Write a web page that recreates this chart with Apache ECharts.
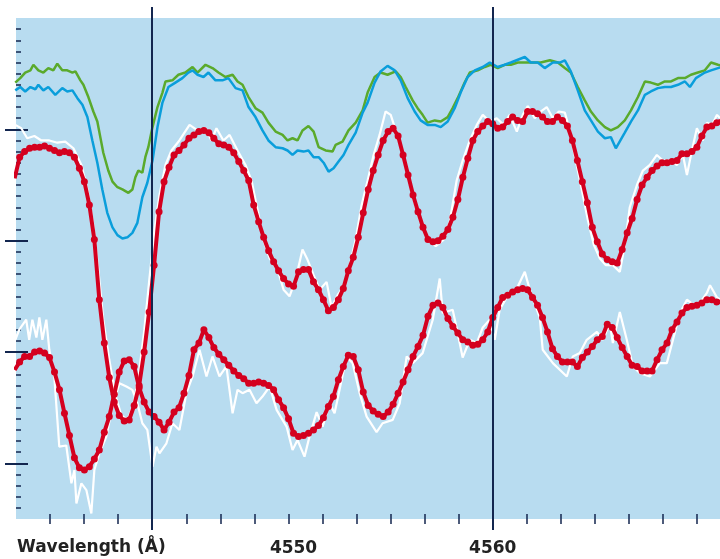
<!DOCTYPE html>
<html><head><meta charset="utf-8">
<script src="https://cdn.jsdelivr.net/npm/echarts@6/dist/echarts.min.js"></script>
<style>html,body{margin:0;padding:0;background:#fff}#c{width:720px;height:559px}</style>
</head><body><div id="c"></div><script>
// Green comparison spectrum (wavelength in Å, relative flux)
const greenWl = [4536.03,4536.28,4536.53,4536.79,4536.94,4537.19,4537.44,4537.69,4537.94,4538.14,4538.39,4538.64,4538.90,4539.05,4539.30,4539.45,4539.70,4539.95,4540.15,4540.30,4540.45,4540.70,4540.91,4541.16,4541.41,4541.71,4541.91,4542.06,4542.21,4542.41,4542.56,4542.71,4542.92,4543.17,4543.42,4543.57,4543.92,4544.22,4544.57,4544.93,4545.18,4545.58,4545.93,4546.23,4546.58,4546.94,4547.19,4547.44,4547.74,4548.09,4548.44,4548.74,4549.10,4549.45,4549.70,4549.95,4550.20,4550.45,4550.75,4551.01,4551.26,4551.61,4551.96,4552.11,4552.46,4552.76,4553.12,4553.47,4553.72,4554.07,4554.37,4554.72,4555.13,4555.38,4555.63,4555.98,4556.23,4556.48,4556.73,4557.09,4557.39,4557.74,4557.99,4558.24,4558.59,4558.85,4559.25,4559.60,4559.90,4560.25,4560.60,4560.91,4561.26,4561.66,4562.11,4562.41,4562.87,4563.27,4563.62,4563.92,4564.27,4564.62,4564.93,4565.28,4565.63,4565.93,4566.28,4566.63,4566.94,4567.29,4567.64,4567.94,4568.29,4568.64,4568.95,4569.30,4569.65,4569.95,4570.30,4570.65,4570.96,4571.31,4571.51];
const greenFlux = [3.92,3.96,4.01,4.03,4.08,4.03,4.01,4.05,4.03,4.09,4.03,4.03,4.01,4.02,3.94,3.90,3.79,3.66,3.57,3.43,3.29,3.13,3.03,2.98,2.96,2.93,2.96,3.07,3.13,3.11,3.25,3.34,3.52,3.70,3.83,3.93,3.94,3.99,4.01,4.06,4.01,4.08,4.05,4.01,3.97,3.99,3.93,3.90,3.79,3.69,3.65,3.56,3.48,3.45,3.40,3.42,3.40,3.49,3.53,3.48,3.34,3.31,3.30,3.36,3.39,3.49,3.56,3.67,3.83,3.97,4.01,3.99,4.02,3.97,3.88,3.76,3.69,3.63,3.56,3.58,3.57,3.61,3.69,3.78,3.92,4.01,4.03,4.06,4.08,4.05,4.08,4.08,4.10,4.10,4.10,4.10,4.12,4.10,4.05,4.01,3.88,3.76,3.66,3.58,3.52,3.49,3.52,3.58,3.67,3.79,3.93,3.92,3.90,3.93,3.93,3.96,3.96,3.99,4.01,4.03,4.10,4.08,4.07];

// Blue comparison spectrum
const blueWl = [4536.03,4536.28,4536.53,4536.79,4537.04,4537.19,4537.44,4537.69,4538.04,4538.39,4538.64,4538.90,4539.15,4539.40,4539.65,4539.90,4540.15,4540.40,4540.65,4540.91,4541.16,4541.41,4541.66,4541.91,4542.16,4542.41,4542.66,4542.92,4543.17,4543.42,4543.72,4544.07,4544.42,4544.72,4544.93,4545.18,4545.48,4545.73,4546.08,4546.43,4546.73,4547.09,4547.44,4547.74,4548.09,4548.44,4548.74,4549.10,4549.45,4549.70,4549.95,4550.20,4550.50,4550.75,4551.01,4551.26,4551.51,4551.76,4552.01,4552.26,4552.51,4552.76,4553.12,4553.47,4553.72,4554.07,4554.37,4554.72,4555.08,4555.38,4555.73,4556.08,4556.38,4556.73,4557.09,4557.39,4557.74,4558.09,4558.39,4558.74,4559.10,4559.50,4559.85,4560.25,4560.60,4560.91,4561.61,4561.91,4562.26,4562.61,4563.02,4563.37,4563.62,4563.92,4564.27,4564.62,4564.93,4565.28,4565.63,4565.93,4566.18,4566.63,4566.94,4567.29,4567.64,4567.94,4568.29,4568.64,4568.95,4569.30,4569.65,4569.90,4570.20,4570.65,4570.96,4571.31,4571.51];
const blueFlux = [3.85,3.88,3.84,3.88,3.86,3.90,3.85,3.88,3.81,3.87,3.84,3.85,3.78,3.72,3.61,3.40,3.20,2.96,2.75,2.62,2.55,2.52,2.53,2.57,2.66,2.89,3.02,3.22,3.52,3.74,3.88,3.92,3.96,4.01,4.03,3.99,3.97,4.01,3.94,3.94,3.96,3.87,3.85,3.70,3.61,3.49,3.40,3.34,3.33,3.31,3.27,3.31,3.30,3.31,3.25,3.25,3.20,3.12,3.15,3.21,3.27,3.36,3.47,3.65,3.74,3.92,4.02,4.07,4.03,3.94,3.78,3.66,3.58,3.54,3.54,3.52,3.57,3.69,3.83,3.97,4.03,4.06,4.10,4.06,4.08,4.10,4.15,4.10,4.10,4.05,4.10,4.10,4.12,4.02,3.85,3.67,3.58,3.48,3.42,3.43,3.33,3.47,3.57,3.67,3.81,3.84,3.87,3.88,3.88,3.90,3.93,3.88,3.96,4.01,4.03,4.05,4.06];

// Wavelength grid (Å) for the two red model spectra
const modelWl = [4536.0,4536.25,4536.5,4536.75,4537.0,4537.25,4537.5,4537.75,4538.0,4538.25,4538.5,4538.75,4539.0,4539.25,4539.5,4539.75,4540.0,4540.25,4540.5,4540.75,4541.0,4541.25,4541.5,4541.75,4542.0,4542.25,4542.5,4542.75,4543.0,4543.25,4543.5,4543.75,4544.0,4544.25,4544.5,4544.75,4545.0,4545.25,4545.5,4545.75,4546.0,4546.25,4546.5,4546.75,4547.0,4547.25,4547.5,4547.75,4548.0,4548.25,4548.5,4548.75,4549.0,4549.25,4549.5,4549.75,4550.0,4550.25,4550.5,4550.75,4551.0,4551.25,4551.5,4551.75,4552.0,4552.25,4552.5,4552.75,4553.0,4553.25,4553.5,4553.75,4554.0,4554.25,4554.5,4554.75,4555.0,4555.25,4555.5,4555.75,4556.0,4556.25,4556.5,4556.75,4557.0,4557.25,4557.5,4557.75,4558.0,4558.25,4558.5,4558.75,4559.0,4559.25,4559.5,4559.75,4560.0,4560.25,4560.5,4560.75,4561.0,4561.25,4561.5,4561.75,4562.0,4562.25,4562.5,4562.75,4563.0,4563.25,4563.5,4563.75,4564.0,4564.25,4564.5,4564.75,4565.0,4565.25,4565.5,4565.75,4566.0,4566.25,4566.5,4566.75,4567.0,4567.25,4567.5,4567.75,4568.0,4568.25,4568.5,4568.75,4569.0,4569.25,4569.5,4569.75,4570.0,4570.25,4570.5,4570.75,4571.0,4571.25,4571.5];

const upperModelFlux = [3.06,3.25,3.30,3.33,3.34,3.34,3.35,3.33,3.31,3.29,3.30,3.29,3.25,3.15,3.03,2.82,2.51,1.97,1.58,1.27,1.05,0.93,0.88,0.89,1.02,1.20,1.50,1.86,2.28,2.76,3.03,3.16,3.27,3.31,3.36,3.42,3.45,3.48,3.49,3.47,3.42,3.37,3.36,3.34,3.29,3.21,3.13,3.04,2.82,2.67,2.53,2.41,2.31,2.23,2.16,2.11,2.09,2.22,2.24,2.24,2.13,2.06,1.97,1.87,1.90,1.97,2.07,2.23,2.35,2.53,2.75,2.96,3.13,3.27,3.40,3.48,3.51,3.44,3.27,3.09,2.91,2.76,2.62,2.51,2.49,2.50,2.54,2.60,2.71,2.87,3.07,3.24,3.40,3.48,3.53,3.57,3.55,3.51,3.52,3.57,3.61,3.58,3.57,3.66,3.66,3.64,3.61,3.57,3.57,3.61,3.58,3.53,3.40,3.22,3.03,2.84,2.62,2.49,2.38,2.33,2.31,2.30,2.42,2.57,2.70,2.87,3.00,3.07,3.13,3.17,3.20,3.20,3.21,3.22,3.28,3.28,3.30,3.34,3.44,3.52,3.53,3.56,3.58];

const lowerModelFlux = [1.34,1.41,1.46,1.46,1.50,1.51,1.49,1.45,1.32,1.16,0.95,0.75,0.55,0.46,0.44,0.47,0.54,0.62,0.78,0.92,1.12,1.32,1.42,1.43,1.37,1.18,1.05,0.96,0.92,0.87,0.80,0.87,0.96,1.00,1.13,1.29,1.52,1.58,1.70,1.63,1.54,1.48,1.43,1.38,1.33,1.29,1.26,1.22,1.22,1.23,1.22,1.20,1.16,1.07,1.00,0.90,0.77,0.74,0.75,0.77,0.80,0.84,0.91,1.01,1.10,1.25,1.37,1.47,1.46,1.34,1.14,1.02,0.97,0.94,0.92,0.96,1.03,1.13,1.23,1.34,1.46,1.55,1.65,1.82,1.92,1.94,1.90,1.80,1.73,1.67,1.61,1.59,1.56,1.57,1.61,1.68,1.81,1.90,1.99,2.01,2.04,2.06,2.07,2.06,1.99,1.92,1.81,1.68,1.53,1.46,1.41,1.41,1.41,1.37,1.45,1.50,1.55,1.61,1.64,1.75,1.72,1.63,1.54,1.46,1.38,1.37,1.33,1.33,1.33,1.43,1.52,1.58,1.70,1.77,1.85,1.90,1.91,1.92,1.94,1.97,1.97,1.95,1.95];

// Observed (noisy) spectra
const upperObsWl = [4536.03,4536.33,4536.63,4536.99,4537.34,4537.74,4538.14,4538.54,4538.95,4539.35,4539.65,4539.95,4540.20,4540.45,4540.75,4541.06,4541.36,4541.66,4541.96,4542.26,4542.51,4542.76,4543.02,4543.27,4543.57,4543.87,4544.27,4544.78,4545.18,4545.58,4545.88,4546.13,4546.48,4546.79,4547.19,4547.59,4547.89,4548.19,4548.49,4548.80,4549.20,4549.50,4549.80,4550.10,4550.45,4550.70,4551.01,4551.31,4551.66,4551.91,4552.21,4552.56,4552.82,4553.12,4553.42,4553.72,4554.02,4554.32,4554.62,4554.88,4555.13,4555.43,4555.73,4556.03,4556.33,4556.73,4557.14,4557.54,4557.84,4558.19,4558.49,4558.85,4559.20,4559.50,4559.85,4560.20,4560.55,4560.85,4561.21,4561.51,4561.76,4562.11,4562.41,4562.71,4563.02,4563.32,4563.62,4563.87,4564.17,4564.47,4564.77,4565.08,4565.38,4565.68,4566.03,4566.38,4566.63,4566.88,4567.24,4567.54,4567.89,4568.24,4568.54,4568.90,4569.25,4569.55,4569.75,4570.00,4570.25,4570.55,4570.75,4571.01,4571.26,4571.41];
const upperObsFlux = [3.54,3.51,3.42,3.44,3.40,3.40,3.38,3.39,3.33,3.18,2.96,2.64,2.24,1.79,1.43,1.11,0.93,0.89,1.02,1.34,1.70,2.15,2.60,2.91,3.18,3.31,3.40,3.54,3.49,3.51,3.40,3.51,3.40,3.45,3.31,3.18,3.04,2.78,2.51,2.34,2.24,2.06,2.00,2.15,2.42,2.33,2.19,2.06,2.13,1.90,2.01,2.10,2.28,2.51,2.82,3.04,3.27,3.45,3.66,3.63,3.49,3.31,3.09,2.87,2.69,2.51,2.45,2.51,2.67,3.04,3.22,3.40,3.54,3.63,3.57,3.60,3.54,3.63,3.48,3.63,3.71,3.60,3.66,3.70,3.60,3.66,3.65,3.49,3.22,2.96,2.69,2.46,2.34,2.28,2.28,2.22,2.46,2.80,3.00,3.13,3.18,3.27,3.22,3.22,3.18,3.27,3.09,3.31,3.51,3.40,3.56,3.54,3.63,3.60];

const lowerObsWl = [4536.03,4536.23,4536.58,4536.73,4536.89,4537.09,4537.24,4537.39,4537.59,4537.74,4537.99,4538.24,4538.59,4538.85,4539.00,4539.10,4539.35,4539.60,4539.85,4540.00,4540.25,4540.60,4540.91,4541.26,4541.61,4541.91,4542.16,4542.41,4542.66,4542.92,4543.12,4543.27,4543.62,4543.92,4544.27,4544.62,4544.93,4545.28,4545.63,4545.93,4546.28,4546.63,4546.94,4547.19,4547.44,4547.79,4548.14,4548.44,4548.80,4549.15,4549.65,4549.95,4550.20,4550.55,4550.80,4551.16,4551.46,4551.81,4552.06,4552.31,4552.66,4552.97,4553.32,4553.67,4554.17,4554.47,4554.98,4555.33,4555.68,4555.98,4556.48,4556.99,4557.34,4557.49,4557.99,4558.24,4558.49,4558.85,4559.20,4559.50,4559.85,4560.10,4560.35,4560.70,4561.21,4561.61,4561.86,4562.36,4562.51,4563.02,4563.72,4564.02,4564.37,4564.72,4565.23,4565.53,4565.88,4566.03,4566.38,4566.73,4567.04,4567.39,4567.89,4568.39,4568.74,4569.05,4569.40,4569.75,4570.25,4570.75,4570.91,4571.26,4571.41];
const lowerObsFlux = [1.61,1.70,1.79,1.61,1.79,1.63,1.81,1.61,1.79,1.52,1.28,0.65,0.66,0.32,0.44,0.14,0.32,0.26,0.05,0.44,0.59,0.74,1.01,1.22,1.19,1.16,1.04,0.86,0.80,0.47,0.65,0.59,0.68,0.86,0.80,1.13,1.28,1.52,1.28,1.46,1.28,1.37,0.95,1.16,1.13,1.16,1.04,1.10,1.19,0.98,0.83,0.62,0.71,0.56,0.74,0.96,0.83,1.04,0.95,1.16,1.46,1.40,1.13,0.92,0.78,0.86,0.89,1.04,1.46,1.40,1.49,1.79,2.16,1.85,1.88,1.67,1.45,1.61,1.58,1.72,1.79,1.61,1.88,1.99,2.07,2.22,2.06,1.81,1.52,1.40,1.28,1.46,1.49,1.61,1.68,1.61,1.76,1.58,1.86,1.61,1.37,1.31,1.28,1.40,1.40,1.61,1.85,1.97,1.90,2.03,2.10,1.99,1.97];

// Axis annotations
const tickLabels = [4550, 4560];
const markerWavelengths = [4542.905, 4560];
const majorFluxTicks = [0.5, 1.5, 2.5, 3.5];
const axisTitle = 'Wavelength (Å)';

const NAVY = '#13264f';
const RED = '#d4001f';
const tickStep = 1.7095;
const xMin = 4560 - 14 * tickStep;
const xMax = 4571.41;
// tick positions: every tickStep Å from the 4560 Å marker, excluding the frame edges
const xTickValues = [];
for (let j = -13; j <= 6; j++) xTickValues.push(4560 + j * tickStep);
const minorFluxTicks = [];
for (let i = 1; i <= 44; i++) minorFluxTicks.push(+(i * 0.1).toFixed(1));

const pairs = (xs, ys) => xs.map((x, i) => [x, ys[i]]);
const chart = echarts.init(document.getElementById('c'), null, {renderer: 'canvas'});

const yBase = {type: 'value', position: 'left', min: 0, max: 4.5, axisLine: {show: false}, axisLabel: {show: false}, splitLine: {show: false}};
const labelFont = {fontFamily: 'DejaVu Sans', fontWeight: 'bold', fontSize: 17, color: '#222'};
const redSeries = data => ({type: 'line', data, symbol: 'circle', symbolSize: 7, showAllSymbol: true,
  itemStyle: {color: RED, borderWidth: 0}, lineStyle: {color: RED, width: 4}, z: 5});
const xTick = {inside: true, length: 5, customValues: xTickValues, lineStyle: {color: NAVY, width: 1.5}};

const option = {
  animation: false,
  grid: {left: 16, right: 0, top: 18, bottom: 40, show: true, backgroundColor: '#b8dcf0', borderWidth: 0},
  xAxis: [
    {type: 'value', position: 'bottom', min: xMin, max: xMax,
     axisLine: {show: false}, splitLine: {show: false}, axisTick: xTick,
     axisLabel: {customValues: tickLabels, formatter: v => String(Math.round(v)), margin: 21, ...labelFont}},
    {type: 'value', position: 'top', min: xMin, max: xMax,
     axisLine: {show: false}, splitLine: {show: false}, axisLabel: {show: false}, axisTick: xTick}
  ],
  yAxis: [
    {...yBase, axisTick: {inside: true, length: 5, customValues: minorFluxTicks, lineStyle: {color: NAVY, width: 1.5}}},
    {...yBase, axisTick: {inside: true, length: 12, customValues: majorFluxTicks, lineStyle: {color: NAVY, width: 2}}},
    {...yBase, axisTick: {inside: false, length: 11, customValues: majorFluxTicks, lineStyle: {color: NAVY, width: 2}}}
  ],
  series: [
    {type: 'line', data: pairs(upperObsWl, upperObsFlux), showSymbol: false, lineStyle: {color: '#ffffff', width: 2.2}, z: 2},
    {type: 'line', data: pairs(lowerObsWl, lowerObsFlux), showSymbol: false, lineStyle: {color: '#ffffff', width: 2.2}, z: 2},
    {type: 'line', data: pairs(greenWl, greenFlux), showSymbol: false, lineStyle: {color: '#5aaa2c', width: 2.5}, z: 3},
    {type: 'line', data: pairs(blueWl, blueFlux), showSymbol: false, lineStyle: {color: '#0a9edb', width: 2.5}, z: 4},
    redSeries(pairs(modelWl, upperModelFlux)),
    redSeries(pairs(modelWl, lowerModelFlux))
  ]
};
chart.setOption(option);

const gfx = markerWavelengths.map(w => {
  const x = Math.round(chart.convertToPixel({xAxisIndex: 0}, w));
  return {type: 'line', shape: {x1: x, y1: 7, x2: x, y2: 530}, style: {stroke: NAVY, lineWidth: 2}, z: 100};
});
gfx.push({type: 'text', left: 17, top: 539, z: 100,
  style: {text: axisTitle, font: 'bold 17px "DejaVu Sans"', fill: '#222'}});
chart.setOption({graphic: gfx});
</script></body></html>
